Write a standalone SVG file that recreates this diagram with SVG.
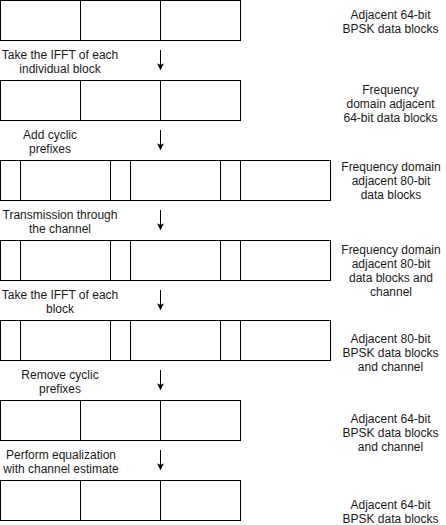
<svg xmlns="http://www.w3.org/2000/svg" width="446" height="525" viewBox="0 0 446 525">
<style>
.blk{fill:#ffffff;stroke:#000000;stroke-width:1}
.div{stroke:#000000;stroke-width:1;fill:none}
.t{font-family:"Liberation Sans",Arial,Helvetica,sans-serif;font-size:12px;fill:#1a1a1a;text-anchor:middle}
.edge{stroke:#000000;stroke-width:1;fill:none}
</style>
<defs>
<marker id="arr" viewBox="0 0 10 10" refX="9" refY="5" markerWidth="7" markerHeight="7" markerUnits="userSpaceOnUse" orient="auto">
<path d="M0,0 L10,5 L0,10 L2.5,5 Z" fill="#000000"/>
</marker>
</defs>
<rect width="446" height="525" fill="#ffffff"/>

<g id="row1">
<rect class="blk" x="0.5" y="0.5" width="240" height="40"/>
<path class="div" d="M80.5,0.5V40.5M160.5,0.5V40.5"/>
</g>
<g id="row2">
<rect class="blk" x="0.5" y="80.5" width="240" height="40"/>
<path class="div" d="M80.5,80.5V120.5M160.5,80.5V120.5"/>
</g>
<g id="row3">
<rect class="blk" x="0.5" y="160.5" width="330" height="40"/>
<path class="div" d="M20.5,160.5V200.5M110.5,160.5V200.5M130.5,160.5V200.5M220.5,160.5V200.5M240.5,160.5V200.5"/>
</g>
<g id="row4">
<rect class="blk" x="0.5" y="240.5" width="330" height="40"/>
<path class="div" d="M20.5,240.5V280.5M110.5,240.5V280.5M130.5,240.5V280.5M220.5,240.5V280.5M240.5,240.5V280.5"/>
</g>
<g id="row5">
<rect class="blk" x="0.5" y="320.5" width="330" height="40"/>
<path class="div" d="M20.5,320.5V360.5M110.5,320.5V360.5M130.5,320.5V360.5M220.5,320.5V360.5M240.5,320.5V360.5"/>
</g>
<g id="row6">
<rect class="blk" x="0.5" y="400.5" width="240" height="40"/>
<path class="div" d="M80.5,400.5V440.5M160.5,400.5V440.5"/>
</g>
<g id="row7">
<rect class="blk" x="0.5" y="480.5" width="240" height="40"/>
<path class="div" d="M80.5,480.5V520.5M160.5,480.5V520.5"/>
</g>

<g id="connectors">
<line class="edge" x1="160.5" y1="50" x2="160.5" y2="69.5" marker-end="url(#arr)"/>
<line class="edge" x1="160.5" y1="130" x2="160.5" y2="149.5" marker-end="url(#arr)"/>
<line class="edge" x1="160.5" y1="210" x2="160.5" y2="229.5" marker-end="url(#arr)"/>
<line class="edge" x1="160.5" y1="290" x2="160.5" y2="309.5" marker-end="url(#arr)"/>
<line class="edge" x1="160.5" y1="370" x2="160.5" y2="389.5" marker-end="url(#arr)"/>
<line class="edge" x1="160.5" y1="450" x2="160.5" y2="469.5" marker-end="url(#arr)"/>
</g>

<g id="step1-label">
<text class="t" x="60" y="58.7">Take the IFFT of each</text>
<text class="t" x="60" y="72.7">individual block</text>
</g>
<g id="step2-label">
<text class="t" x="50" y="138.5">Add cyclic</text>
<text class="t" x="50" y="152.5">prefixes</text>
</g>
<g id="step3-label">
<text class="t" x="60" y="218.7">Transmission through</text>
<text class="t" x="60" y="232.7">the channel</text>
</g>
<g id="step4-label">
<text class="t" x="60" y="298.7">Take the IFFT of each</text>
<text class="t" x="60" y="312.7">block</text>
</g>
<g id="step5-label">
<text class="t" x="60" y="378.7">Remove cyclic</text>
<text class="t" x="60" y="392.7">prefixes</text>
</g>
<g id="step6-label">
<text class="t" x="61" y="458.7">Perform equalization</text>
<text class="t" x="61" y="472.7">with channel estimate</text>
</g>

<g id="row1-label">
<text class="t" x="390.5" y="18.7">Adjacent 64-bit</text>
<text class="t" x="390.5" y="32.7">BPSK data blocks</text>
</g>
<g id="row2-label">
<text class="t" x="390.5" y="94">Frequency</text>
<text class="t" x="390.5" y="108">domain adjacent</text>
<text class="t" x="390.5" y="122">64-bit data blocks</text>
</g>
<g id="row3-label">
<text class="t" x="391" y="171.4">Frequency domain</text>
<text class="t" x="391" y="185.4">adjacent 80-bit</text>
<text class="t" x="391" y="199.4">data blocks</text>
</g>
<g id="row4-label">
<text class="t" x="391" y="254">Frequency domain</text>
<text class="t" x="391" y="268">adjacent 80-bit</text>
<text class="t" x="391" y="282">data blocks and</text>
<text class="t" x="391" y="296">channel</text>
</g>
<g id="row5-label">
<text class="t" x="390.5" y="342.7">Adjacent 80-bit</text>
<text class="t" x="390.5" y="356.7">BPSK data blocks</text>
<text class="t" x="390.5" y="370.7">and channel</text>
</g>
<g id="row6-label">
<text class="t" x="390.5" y="422.7">Adjacent 64-bit</text>
<text class="t" x="390.5" y="436.7">BPSK data blocks</text>
<text class="t" x="390.5" y="450.7">and channel</text>
</g>
<g id="row7-label">
<text class="t" x="390.5" y="508.7">Adjacent 64-bit</text>
<text class="t" x="390.5" y="522.7">BPSK data blocks</text>
</g>
</svg>
